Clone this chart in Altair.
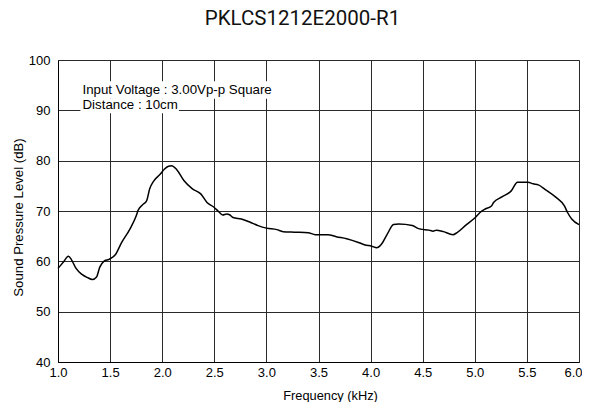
import altair as alt
import pandas as pd

freq_khz = [1.00, 1.05, 1.10, 1.13, 1.17, 1.23, 1.28, 1.33, 1.37, 1.40, 1.44, 1.49,
            1.55, 1.61, 1.69, 1.75, 1.77, 1.81, 1.85, 1.88, 1.92, 1.98, 2.02, 2.06,
            2.09, 2.14, 2.21, 2.29, 2.37, 2.43, 2.50, 2.54, 2.58, 2.62, 2.65, 2.68,
            2.76, 2.84, 2.92, 3.00, 3.10, 3.16, 3.27, 3.40, 3.47, 3.59, 3.67, 3.77,
            3.89, 3.94, 4.01, 4.06, 4.10, 4.16, 4.22, 4.27, 4.40, 4.46, 4.48, 4.56,
            4.60, 4.63, 4.70, 4.79, 4.83, 4.92, 5.00, 5.05, 5.10, 5.16, 5.18, 5.26,
            5.35, 5.41, 5.51, 5.56, 5.61, 5.68, 5.78, 5.86, 5.89, 5.93, 6.00]
spl_db = [58.6, 59.8, 61.0, 60.3, 58.7, 57.4, 56.8, 56.4, 56.9, 58.8, 60.0, 60.4,
          61.3, 63.7, 66.4, 69.0, 70.2, 71.2, 72.0, 74.4, 76.0, 77.3, 78.3, 78.9,
          79.0, 78.2, 76.0, 74.4, 73.4, 71.7, 70.7, 69.9, 69.2, 69.4, 69.2, 68.7,
          68.4, 67.8, 67.1, 66.6, 66.3, 65.9, 65.8, 65.7, 65.3, 65.3, 64.9, 64.5,
          63.7, 63.3, 63.0, 62.7, 63.3, 65.4, 67.3, 67.4, 67.1, 66.5, 66.4, 66.2,
          66.0, 66.2, 65.9, 65.3, 65.7, 67.3, 68.6, 69.7, 70.4, 71.0, 71.7, 72.8,
          74.0, 75.7, 75.7, 75.4, 75.2, 74.2, 72.7, 71.0, 69.7, 68.4, 67.3]

x_ticks = [1.0, 1.5, 2.0, 2.5, 3.0, 3.5, 4.0, 4.5, 5.0, 5.5, 6.0]
y_ticks = [40, 50, 60, 70, 80, 90, 100]

note_lines = ["Input Voltage : 3.00Vp-p Square", "Distance : 10cm"]
note_x = [1.235, 1.235]
note_y = [93.3, 90.3]
# white background boxes behind each annotation line
box_x1 = [1.215, 1.215]
box_x2 = [3.06, 2.16]
box_y1 = [92.3, 89.4]
box_y2 = [95.8, 92.3]

df = pd.DataFrame({"f": freq_khz, "db": spl_db})
notes = pd.DataFrame({"t": note_lines, "x": note_x, "y": note_y})
boxes = pd.DataFrame({"x1": box_x1, "x2": box_x2, "y1": box_y1, "y2": box_y2})

FONT = "Liberation Sans"

xs = alt.Scale(domain=[1.0, 6.0], nice=False, zero=False)
ys = alt.Scale(domain=[40, 100], nice=False, zero=False)

xaxis = alt.Axis(values=x_ticks, format=".1f", ticks=False, grid=True,
                 gridColor="#2a2a2a", gridWidth=1, domainColor="#000",
                 labelFont=FONT, labelFontSize=13, labelColor="#000", labelPadding=4,
                 labelFlush=False, labelOverlap=False,
                 labelAlign={"condition": {"test": "datum.value >= 6", "value": "right"},
                             "value": "center"},
                 labelOffset={"condition": {"test": "datum.value >= 6", "value": 3},
                              "value": 0},
                 title="Frequency (kHz)", titleFont=FONT, titleFontSize=12.8,
                 titleFontWeight="normal", titleColor="#000", titleY=33, titleX=272,
                 titleAlign="center", titleBaseline="middle")
yaxis = alt.Axis(values=y_ticks, ticks=False, grid=True,
                 gridColor="#2a2a2a", gridWidth=1, domainColor="#000",
                 labelFont=FONT, labelFontSize=13, labelColor="#000", labelPadding=8,
                 labelFlush=False, labelOverlap=False,
                 title="Sound Pressure Level (dB)", titleFont=FONT, titleFontSize=13.2,
                 titleFontWeight="normal", titleColor="#000", titleAngle=270,
                 titleX=-40, titleY=157, titleAlign="center", titleBaseline="middle")

line = alt.Chart(df).mark_line(color="#000", strokeWidth=1.5, interpolate="monotone").encode(
    x=alt.X("f:Q", scale=xs, axis=xaxis),
    y=alt.Y("db:Q", scale=ys, axis=yaxis),
)

box = alt.Chart(boxes).mark_rect(color="#fff").encode(
    x=alt.X("x1:Q", scale=xs), x2="x2:Q",
    y=alt.Y("y1:Q", scale=ys), y2="y2:Q",
)

text = alt.Chart(notes).mark_text(font=FONT, fontSize=13.3, align="left",
                                  baseline="alphabetic", color="#000").encode(
    x=alt.X("x:Q", scale=xs), y=alt.Y("y:Q", scale=ys), text="t:N",
)

chart = alt.layer(box, text, line).properties(
    width=521, height=302,
    autosize=alt.AutoSizeParams(type="none"),
    padding={"left": 50, "top": 52, "right": 3, "bottom": 40},
    title=alt.TitleParams("PKLCS1212E2000-R1", font="Roboto", fontSize=20.5,
                          fontWeight="normal", color="#111", anchor="middle",
                          dx=-16, offset=24.5),
).configure_view(stroke="#2a2a2a").configure(background="#fff")

chart.save("out.html", embed_options={"renderer": "svg", "actions": False})
